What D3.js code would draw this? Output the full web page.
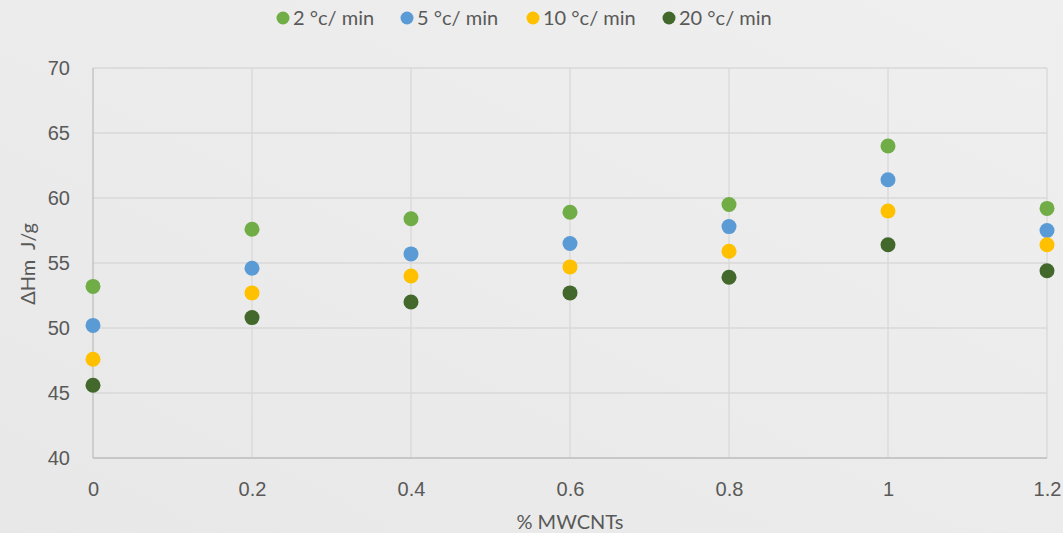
<!DOCTYPE html>
<html lang="en">
<head>
    <meta charset="UTF-8">
    <title>D3 - Scatter</title>
    <script src="https://d3js.org/d3.v7.min.js"></script>
    <style>
        body{
            margin: 0;
            background-color: #ebebeb;
        }
        #canvas{
            display: block;
            font-family: Lato, "Open Sans", sans-serif;
        }
        .tick text{
            fill: #595959;
            font-size: 20px;
        }
    </style>
</head>
<body>
<svg id="canvas" width="1063" height="533"></svg>
<script>
    // data
    let xValues = [0, 0.2, 0.4, 0.6, 0.8, 1, 1.2];
    let seriesNames = ["2 °c/ min", "5 °c/ min", "10 °c/ min", "20 °c/ min"];
    let seriesColors = ["#70ad47", "#5b9bd5", "#ffc000", "#43682b"];
    let rate2 = [53.2, 57.6, 58.4, 58.9, 59.5, 64.0, 59.2];
    let rate5 = [50.2, 54.6, 55.7, 56.5, 57.8, 61.4, 57.5];
    let rate10 = [47.6, 52.7, 54.0, 54.7, 55.9, 59.0, 56.4];
    let rate20 = [45.6, 50.8, 52.0, 52.7, 53.9, 56.4, 54.4];
    let xTicks = [0, 0.2, 0.4, 0.6, 0.8, 1, 1.2];
    let yTicks = [40, 45, 50, 55, 60, 65, 70];

    let series = [rate2, rate5, rate10, rate20].map((vals, i) => ({
        name: seriesNames[i],
        color: seriesColors[i],
        points: vals.map((v, j) => ({x: xValues[j], y: v}))
    }));

    let svg = d3.select('svg');

    // background gradient, light gray
    let defs = svg.append('defs');
    let grad = defs.append('linearGradient').attr('id', 'bg').attr('x1', 0).attr('y1', 1).attr('x2', 1).attr('y2', 0);
    grad.append('stop').attr('offset', '0%').attr('stop-color', '#e8e8e8');
    grad.append('stop').attr('offset', '100%').attr('stop-color', '#efefef');
    svg.append('rect').attr('width', 1063).attr('height', 533).attr('fill', 'url(#bg)');

    const plotLeft = 93, plotRight = 1047, plotTop = 68, plotBottom = 458;

    let x = d3.scaleLinear().domain([0, 1.2]).range([plotLeft, plotRight]);
    let y = d3.scaleLinear().domain([40, 70]).range([plotBottom, plotTop]);

    // gridlines
    let grid = svg.append('g');
    grid.selectAll('line.h')
        .data(yTicks)
        .enter()
        .append('line')
        .attr('x1', plotLeft).attr('x2', plotRight)
        .attr('y1', d => y(d)).attr('y2', d => y(d))
        .attr('stroke', '#d9d9d9').attr('stroke-width', 1.3);
    grid.selectAll('line.v')
        .data(xTicks)
        .enter()
        .append('line')
        .attr('x1', d => x(d)).attr('x2', d => x(d))
        .attr('y1', plotTop).attr('y2', plotBottom)
        .attr('stroke', d => d === 0 ? '#bfbfbf' : '#d9d9d9').attr('stroke-width', 1.3);
    grid.append('line')
        .attr('x1', plotLeft).attr('x2', plotRight)
        .attr('y1', plotBottom).attr('y2', plotBottom)
        .attr('stroke', '#bfbfbf').attr('stroke-width', 1.3);

    // axes (labels only)
    let xAxis = svg.append('g')
        .attr('transform', `translate(0,${plotBottom})`)
        .call(d3.axisBottom(x).tickValues(xTicks).tickFormat(d3.format('~g')).tickSize(0).tickPadding(24));
    let yAxis = svg.append('g')
        .attr('transform', `translate(${plotLeft},0)`)
        .call(d3.axisLeft(y).tickValues(yTicks).tickSize(0).tickPadding(23));
    xAxis.select('.domain').remove();
    yAxis.select('.domain').remove();
    xAxis.selectAll('.tick text').attr('dy', '0.71em');

    // axis titles
    svg.append('text')
        .attr('x', 570).attr('y', 529)
        .attr('text-anchor', 'middle')
        .attr('fill', '#595959').attr('font-size', 20)
        .text('% MWCNTs');
    svg.append('text')
        .attr('transform', 'translate(35,264) rotate(-90)')
        .attr('text-anchor', 'middle')
        .attr('fill', '#595959').attr('font-size', 20)
        .style('white-space', 'pre')
        .text('ΔHm  J/g');

    // points
    let pts = svg.append('g');
    series.forEach(s => {
        pts.selectAll(null)
            .data(s.points)
            .enter()
            .append('circle')
            .attr('cx', d => x(d.x))
            .attr('cy', d => y(d.y))
            .attr('r', 7.5)
            .attr('fill', s.color);
    });

    // legend
    let legendX = [283, 407, 533, 669];
    let legend = svg.append('g');
    series.forEach((s, i) => {
        legend.append('circle')
            .attr('cx', legendX[i]).attr('cy', 18).attr('r', 6.5)
            .attr('fill', s.color);
        legend.append('text')
            .attr('x', legendX[i] + 10).attr('y', 25)
            .attr('fill', '#595959').attr('font-size', 20)
            .text(s.name);
    });
</script>
</body>
</html>
